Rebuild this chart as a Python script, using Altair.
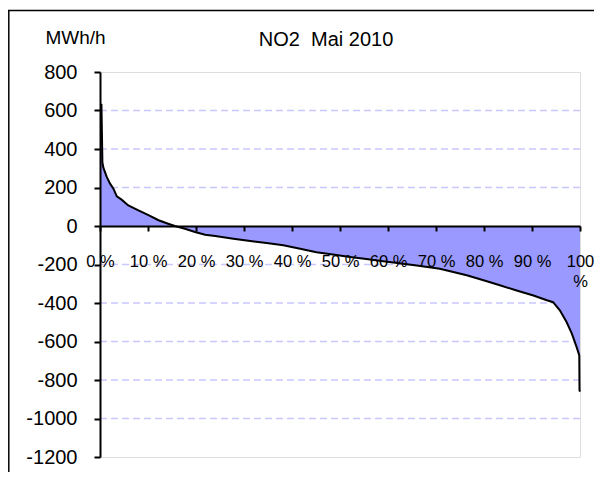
import altair as alt
import pandas as pd

# Duration curve values (percent of hours, MWh/h)
pct = [0, 0.3, 0.5, 0.7, 1.4, 2.1, 2.8, 3.5, 4.5, 5.9, 8.0, 10.1, 12.2, 14.2, 15.6,
       17.7, 19.8, 21.9, 24.0, 27.8, 31.3, 34.7, 38.2, 41.7, 45.1, 48.5, 52.1, 55.5,
       59.0, 61.1, 66.0, 70.8, 76.4, 79.9, 83.3, 86.8, 90.3, 93.1, 94.4, 95.8, 97.2,
       98.3, 99.3, 99.85, 99.9, 100]
mwh = [632, 630, 330, 303, 255, 220, 194, 154, 137, 107, 81, 56, 30, 12, 0,
       -14, -31, -45, -52, -66, -78, -88, -100, -118, -136, -148, -161, -172,
       -183, -189, -205, -222, -256, -282, -308, -335, -361, -386, -396, -438, -499,
       -559, -629, -672, -853, -860]

grid_values = [600, 400, 200, -200, -400, -600, -800, -1000]
y_ticks = [800, 600, 400, 200, 0, -200, -400, -600, -800, -1000, -1200]
x_ticks = [0, 10, 20, 30, 40, 50, 60, 70, 80, 90, 100]
title_text = "NO2\u00a0 Mai 2010"

df = pd.DataFrame({"pct": pct, "mwh": mwh})
grid_df = pd.DataFrame({"g": grid_values})
one = pd.DataFrame({"a": [0]})

FONT = "Liberation Sans"

xscale = alt.Scale(domain=[0, 100], nice=False)
yscale = alt.Scale(domain=[-1200, 800], nice=False)

xaxis = alt.Axis(values=x_ticks, orient="bottom", offset=-231, title=None,
                 grid=False, domainColor="black", domainWidth=2,
                 tickColor="black", tickWidth=2, tickSize=5, zindex=2,
                 labelPadding=22, labelFont=FONT, labelFontSize=16.5,
                 labelColor="black", labelFlush=False, labelOverlap=False,
                 labelLineHeight=20,
                 labelExpr="datum.value == 100 ? ['100', '%'] : datum.value + ' %'")
yaxis = alt.Axis(values=y_ticks, title="MWh/h", titleAngle=0, titleX=-55, titleY=-29,
                 titleAlign="left", titleBaseline="alphabetic", titleFont=FONT,
                 titleFontSize=19, titleFontWeight="normal", titleColor="black",
                 grid=False, domainColor="black", domainWidth=2, zindex=2,
                 tickColor="black", tickWidth=2, tickSize=6,
                 labelPadding=17, labelFont=FONT, labelFontSize=20,
                 labelColor="black", labelFlush=False, labelOverlap=False,
                 labelExpr="'' + datum.value")

grid = alt.Chart(grid_df).mark_rule(color="#C8C8FF", strokeWidth=1.5, strokeDash=[7, 4]).encode(
    y=alt.Y("g:Q", scale=yscale, axis=yaxis, title="MWh/h")
)

area = alt.Chart(df).mark_area(color="#9999FF", opacity=1).encode(
    x=alt.X("pct:Q", scale=xscale, axis=xaxis),
    y=alt.Y("mwh:Q", scale=yscale, axis=yaxis, title="MWh/h"),
)

line = alt.Chart(df).mark_line(color="black", strokeWidth=2).encode(
    x=alt.X("pct:Q", scale=xscale, axis=xaxis),
    y=alt.Y("mwh:Q", scale=yscale, axis=yaxis, title="MWh/h"),
)

title = alt.Chart(one).mark_text(font=FONT, fontSize=20, color="black",
                                 align="center", baseline="alphabetic").encode(
    x=alt.value(226), y=alt.value(-26), text=alt.value(title_text)
)

border_left = alt.Chart(one).mark_rule(color="black", strokeWidth=1.5).encode(
    x=alt.value(-91.2), y=alt.value(-62), y2=alt.value(420)
)
border_top = alt.Chart(one).mark_rule(color="black", strokeWidth=1.5).encode(
    x=alt.value(-92), x2=alt.value(520), y=alt.value(-61.5)
)

chart = alt.layer(grid, area, line, title, border_left, border_top).properties(
    width=480,
    height=385,
    padding={"left": 92, "top": 64, "right": 14, "bottom": 15},
    autosize=alt.AutoSizeParams(type="none"),
).configure_view(
    stroke="#808080", strokeWidth=2
).configure(background="white")

chart.save("out.html", embed_options={"renderer": "svg", "actions": False})
